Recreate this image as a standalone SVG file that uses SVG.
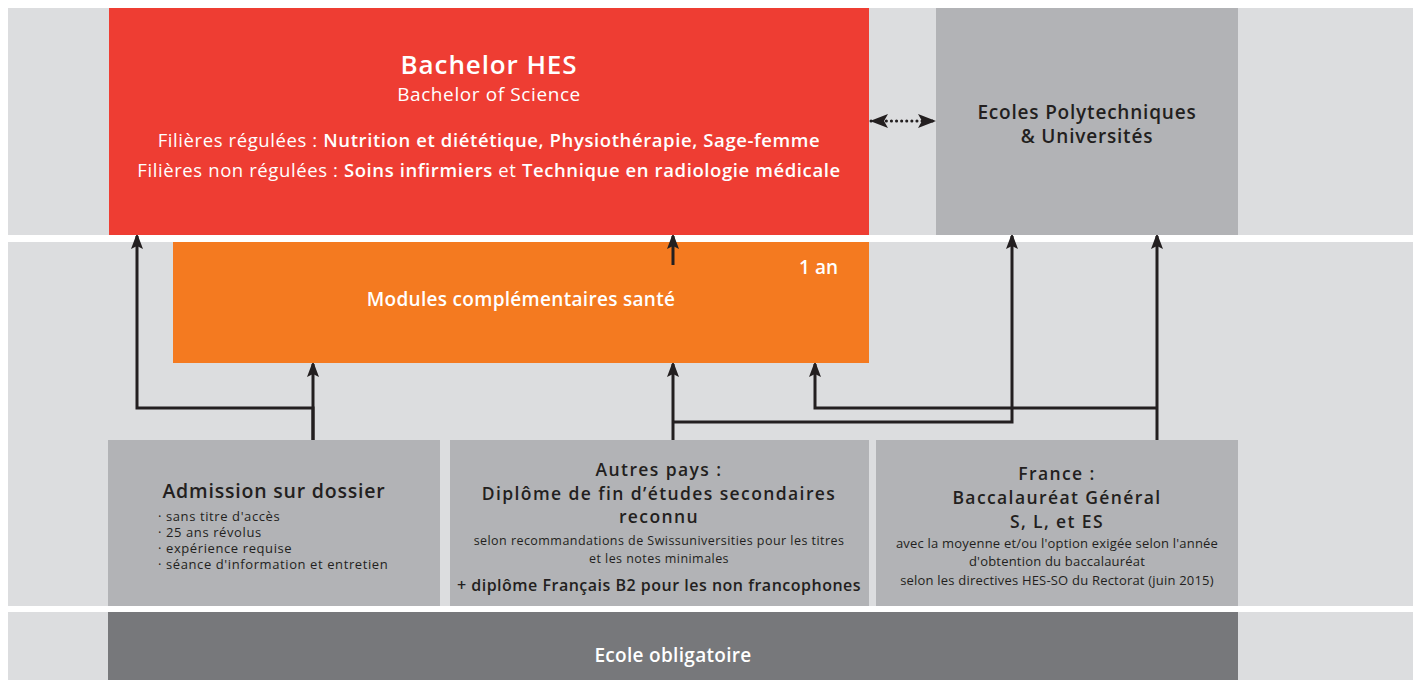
<svg xmlns="http://www.w3.org/2000/svg" width="1419" height="680" viewBox="0 0 1419 680">
<style>
.band{fill:#dcdddf}
.grey{fill:#b2b3b6}
.t{font-family:"Open Sans","Liberation Sans",sans-serif;text-anchor:middle}
.w{fill:#ffffff}
.d{fill:#231f20}
.b{font-weight:600}
.l{font-weight:400}
.s{letter-spacing:1.4px}
.conn{fill:none;stroke:#231f20;stroke-width:3}
</style>
<defs>
<marker id="ah" markerUnits="userSpaceOnUse" markerWidth="14" markerHeight="20" refX="13" refY="6" orient="auto">
<path d="M0,0 L16,6 L0,12 L3,6 Z" fill="#231f20"/>
</marker>
<marker id="ah2" markerUnits="userSpaceOnUse" markerWidth="18" markerHeight="16" refX="17" refY="7" orient="auto-start-reverse">
<path d="M0,0 L18,7 L0,14 L4,7 Z" fill="#231f20"/>
</marker>
</defs>
<rect x="0" y="0" width="1419" height="680" fill="#ffffff"/>
<rect class="band" x="8" y="8" width="1405" height="227"/>
<rect class="band" x="8" y="242" width="1405" height="364"/>
<rect class="band" x="8" y="612" width="1405" height="68"/>

<g id="bachelor">
<rect x="109" y="8" width="760" height="227" fill="#ee3d33"/>
<text class="t w b" x="489" y="74" font-size="26" letter-spacing="0.9">Bachelor HES</text>
<text class="t w l" x="489" y="101" font-size="19" letter-spacing="0.6">Bachelor of Science</text>
<text class="t w l" x="489" y="147" font-size="18.5" letter-spacing="0.6">Filières régulées : <tspan class="b">Nutrition et diététique, Physiothérapie, Sage-femme</tspan></text>
<text class="t w l" x="489" y="177" font-size="18.5" letter-spacing="0.6">Filières non régulées : <tspan class="b">Soins infirmiers</tspan> et <tspan class="b">Technique en radiologie médicale</tspan></text>
</g>

<g id="ecoles">
<rect class="grey" x="936" y="8" width="302" height="227"/>
<text class="t d b" x="1087" y="119" font-size="19" letter-spacing="0.8">Ecoles Polytechniques</text>
<text class="t d b" x="1087" y="143" font-size="19" letter-spacing="0.8">&amp; Universités</text>
</g>

<g id="modules">
<rect x="173" y="242" width="696" height="121" fill="#f47a20"/>
<text class="t w b" x="838" y="274" font-size="19" style="text-anchor:end">1 an</text>
<text class="t w b" x="521" y="306" font-size="19" letter-spacing="0.3">Modules complémentaires santé</text>
</g>

<g id="admission">
<rect class="grey" x="108" y="440" width="332" height="166"/>
<text class="t d b" x="274" y="498" font-size="19.5" letter-spacing="0.8">Admission sur dossier</text>
<g class="t d" font-size="13" letter-spacing="0.6">
<text x="158" y="521" style="text-anchor:start">· sans titre d'accès</text>
<text x="158" y="537" style="text-anchor:start">· 25 ans révolus</text>
<text x="158" y="553" style="text-anchor:start">· expérience requise</text>
<text x="158" y="569" style="text-anchor:start">· séance d'information et entretien</text>
</g>
</g>

<g id="autres">
<rect class="grey" x="450" y="440" width="419" height="166"/>
<text class="t d b s" x="659" y="476" font-size="17.5">Autres pays :</text>
<text class="t d b s" x="659" y="500" font-size="17.5">Diplôme de fin d’études secondaires</text>
<text class="t d b s" x="659" y="523" font-size="17.5">reconnu</text>
<text class="t d" x="659" y="545" font-size="12.5" letter-spacing="0.45">selon recommandations de Swissuniversities pour les titres</text>
<text class="t d" x="659" y="563" font-size="12.5" letter-spacing="0.45">et les notes minimales</text>
<text class="t d b" x="659" y="591" font-size="16" letter-spacing="0.5">+ diplôme Français B2 pour les non francophones</text>
</g>

<g id="france">
<rect class="grey" x="876" y="440" width="362" height="166"/>
<text class="t d b s" x="1057" y="480" font-size="17.5">France :</text>
<text class="t d b s" x="1057" y="504" font-size="17.5">Baccalauréat Général</text>
<text class="t d b s" x="1057" y="528" font-size="17.5">S, L, et ES</text>
<text class="t d" x="1057" y="548" font-size="13" letter-spacing="0.2">avec la moyenne et/ou l'option exigée selon l'année</text>
<text class="t d" x="1057" y="566" font-size="13" letter-spacing="0.2">d'obtention du baccalauréat</text>
<text class="t d" x="1057" y="585" font-size="13" letter-spacing="0.2">selon les directives HES-SO du Rectorat (juin 2015)</text>
</g>

<g id="ecole-obligatoire">
<rect x="108" y="612" width="1130" height="68" fill="#77787b"/>
<text class="t w b" x="673" y="662" font-size="19" letter-spacing="0.3">Ecole obligatoire</text>
</g>

<g id="connectors">
<polyline class="conn" points="313,440 313,408 137,408 137,236" marker-end="url(#ah)"/>
<polyline class="conn" points="313,440 313,364" marker-end="url(#ah)"/>
<polyline class="conn" points="673,265 673,236" marker-end="url(#ah)"/>
<polyline class="conn" points="673,440 673,364" marker-end="url(#ah)"/>
<polyline class="conn" points="673,422 1012,422 1012,236" marker-end="url(#ah)"/>
<polyline class="conn" points="1157,440 1157,236" marker-end="url(#ah)"/>
<polyline class="conn" points="1157,408 815,408 815,364" marker-end="url(#ah)"/>
<line x1="871" y1="121" x2="935" y2="121" stroke="#231f20" stroke-width="3" stroke-dasharray="0.1 5" stroke-linecap="round" marker-start="url(#ah2)" marker-end="url(#ah2)"/>
</g>
</svg>
